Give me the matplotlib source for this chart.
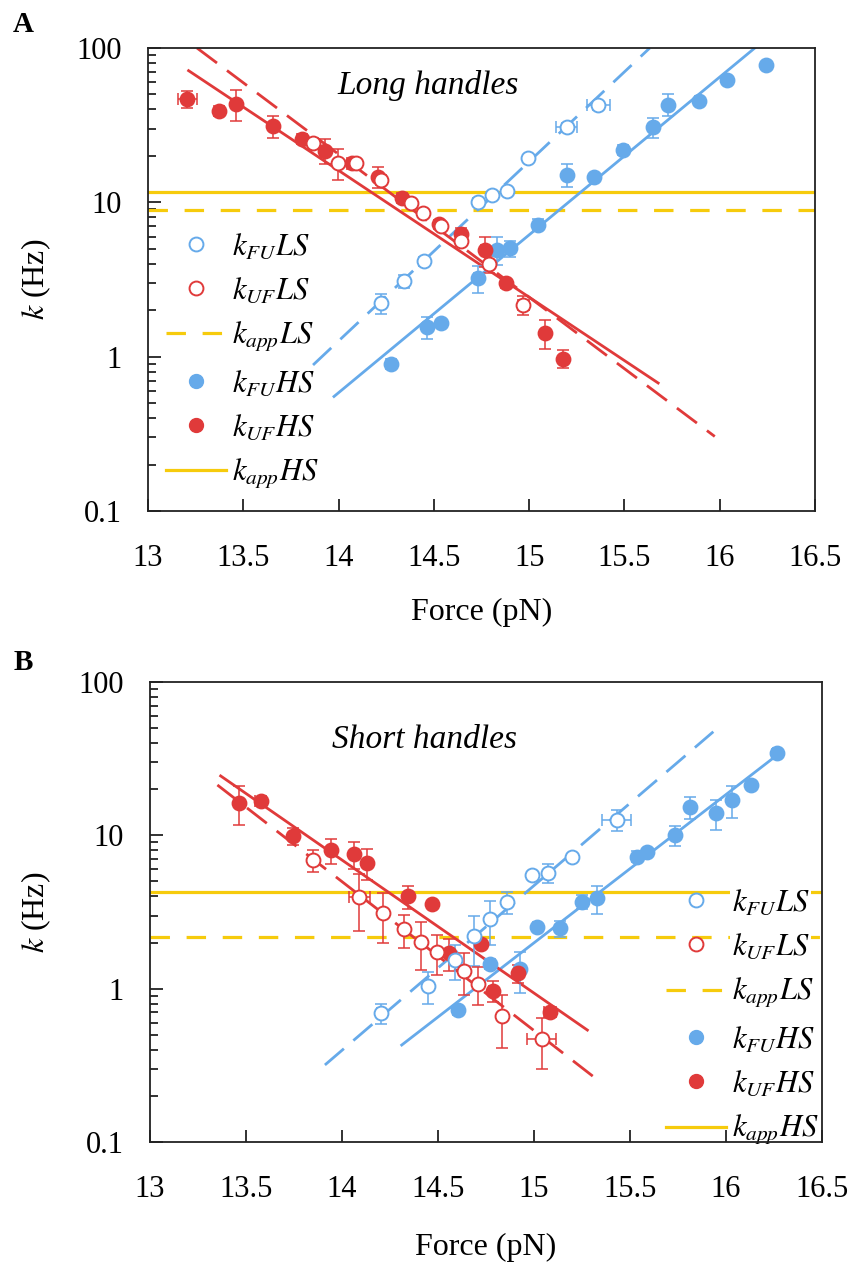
import numpy as np
import matplotlib
matplotlib.use('Agg')
from matplotlib import pyplot as plt
from matplotlib import ticker as tkr
from matplotlib.lines import Line2D

plt.rcParams['font.family'] = ['Liberation Serif', 'DejaVu Serif']
plt.rcParams['mathtext.fontset'] = 'stix'
plt.rcParams['lines.scale_dashes'] = False

BLUE = '#66aaea'
RED = '#e03a3a'
YELLOW = '#f6cb0c'

# ---- Panel A: long handles (force in pN, rate in Hz) ----
a_fu_ls_f = [14.221, 14.343, 14.448, 14.731, 14.803, 14.885, 14.995, 15.196, 15.362]
a_fu_ls_k = [2.22, 3.08, 4.14, 10.1, 11.2, 11.8, 19.4, 30.8, 42.5]
a_fu_ls_kerr = [0.32, 0.3, 0.3, 0.5, 0.5, 0.5, 1.0, 2.0, 3.0]
a_fu_ls_ferr = [0, 0, 0, 0, 0, 0, 0, 0.055, 0.06]

a_uf_ls_f = [13.866, 13.997, 14.093, 14.224, 14.382, 14.443, 14.539, 14.644, 14.790, 14.969]
a_uf_ls_k = [24.2, 18.0, 18.0, 14.0, 9.9, 8.5, 7.0, 5.6, 4.0, 2.17]
a_uf_ls_kerr = [1.5, 4.0, 1.0, 1.0, 0.5, 0.5, 0.4, 0.4, 0.5, 0.32]
a_uf_ls_ferr = [0, 0, 0, 0, 0, 0, 0, 0, 0, 0.03]

a_fu_hs_f = [14.273, 14.466, 14.539, 14.731, 14.832, 14.902, 15.048, 15.196, 15.340,
             15.493, 15.651, 15.730, 15.892, 16.036, 16.242]
a_fu_hs_k = [0.90, 1.55, 1.65, 3.23, 4.93, 5.05, 7.17, 15.1, 14.5, 21.9, 30.6, 43.0, 45.6, 62.4, 78.0]
a_fu_hs_kerr = [0.07, 0.25, 0, 0.65, 1.0, 0.6, 0.6, 2.5, 0.7, 1.5, 4.4, 7.0, 2.0, 3.0, 0]
a_fu_hs_ferr = [0.02, 0, 0, 0.02, 0, 0, 0, 0, 0, 0.02, 0, 0, 0.02, 0.02, 0]

a_uf_hs_f = [13.206, 13.373, 13.463, 13.656, 13.808, 13.930, 14.070, 14.207, 14.334,
             14.527, 14.640, 14.766, 14.878, 15.082, 15.179]
a_uf_hs_k = [47.0, 39.0, 43.4, 31.0, 25.8, 21.6, 18.0, 14.7, 10.7, 7.2, 6.2, 4.9, 3.0, 1.42, 0.97]
a_uf_hs_kerr = [6.0, 3.0, 10.0, 5.0, 2.0, 4.0, 1.5, 2.3, 0.8, 0.5, 0.6, 1.1, 0.2, 0.3, 0.13]
a_uf_hs_ferr = [0.05, 0, 0, 0, 0.02, 0, 0, 0, 0, 0, 0, 0.02, 0.02, 0, 0]

# fitted lines: end points
a_fit_fu_ls = ([13.866, 15.633], [0.883, 100.0])
a_fit_fu_hs = ([13.976, 16.184], [0.552, 100.0])
a_fit_uf_ls = ([13.257, 15.974], [100.0, 0.304])
a_fit_uf_hs = ([13.213, 15.677], [71.3, 0.675])
a_kapp_ls = 8.87
a_kapp_hs = 11.6

# ---- Panel B: short handles ----
b_fu_ls_f = [14.203, 14.446, 14.589, 14.689, 14.771, 14.860, 14.988, 15.074, 15.196, 15.430]
b_fu_ls_k = [0.69, 1.04, 1.54, 2.20, 2.83, 3.66, 5.5, 5.7, 7.26, 12.6]
b_fu_ls_kerr = [0.1, 0.25, 0.4, 0.8, 0.9, 0.6, 0, 0.8, 0, 2.0]
b_fu_ls_ferr = [0.02, 0, 0, 0, 0, 0, 0, 0, 0, 0.075]

b_uf_ls_f = [13.851, 14.090, 14.212, 14.323, 14.410, 14.497, 14.635, 14.710, 14.833, 15.040]
b_uf_ls_k = [6.9, 3.98, 3.10, 2.44, 2.02, 1.73, 1.31, 1.08, 0.66, 0.47]
b_uf_ls_kerr = [1.1, 1.6, 1.1, 0.6, 0.7, 0.5, 0.4, 0.3, 0.25, 0.17]
b_uf_ls_ferr = [0.02, 0.054, 0, 0, 0, 0, 0, 0, 0, 0.075]

b_fu_hs_f = [14.606, 14.769, 14.927, 15.014, 15.135, 15.248, 15.330, 15.535, 15.587,
             15.734, 15.812, 15.948, 16.029, 16.128, 16.264]
b_fu_hs_k = [0.725, 1.45, 1.34, 2.54, 2.47, 3.69, 3.88, 7.26, 7.8, 10.0, 15.2, 13.9, 17.0, 21.3, 34.3]
b_fu_hs_kerr = [0.05, 0.1, 0.4, 0.1, 0.3, 0.4, 0.8, 0.6, 0, 1.5, 2.5, 3.0, 4.0, 0, 2.0]
b_fu_hs_ferr = [0.02, 0.02, 0, 0.02, 0, 0, 0, 0, 0, 0, 0, 0, 0, 0, 0.02]

b_uf_hs_f = [13.463, 13.576, 13.746, 13.943, 14.064, 14.132, 14.345, 14.470, 14.559,
             14.726, 14.788, 14.918, 15.083]
b_uf_hs_k = [16.3, 16.7, 9.9, 8.0, 7.5, 6.6, 4.0, 3.55, 1.71, 1.97, 0.97, 1.26, 0.70]
b_uf_hs_kerr = [4.6, 0.8, 1.2, 1.5, 1.5, 1.5, 0.7, 0, 0.4, 0, 0.15, 0.17, 0.05]
b_uf_hs_ferr = [0, 0.03, 0, 0, 0, 0, 0, 0, 0, 0, 0.02, 0, 0.03]

b_fit_fu_ls = ([13.911, 15.934], [0.318, 47.4])
b_fit_fu_hs = ([14.311, 16.290], [0.429, 35.2])
b_fit_uf_ls = ([13.351, 15.344], [21.3, 0.247])
b_fit_uf_hs = ([13.368, 15.278], [24.4, 0.537])
b_kapp_ls = 2.16
b_kapp_hs = 4.29

x_ticks = [13, 13.5, 14, 14.5, 15, 15.5, 16, 16.5]
y_ticks = [0.1, 1, 10, 100]
legend_labels = ['$k_{FU}LS$', '$k_{UF}LS$', '$k_{app}LS$',
                 '$k_{FU}HS$', '$k_{UF}HS$', '$k_{app}HS$']

FIT_DASH = (0, (18, 9))
APP_DASH = (0, (14, 12))
MS = 10


def draw_points(ax, force, rate, rate_err, force_err, color, filled):
    force = np.asarray(force)
    rate = np.asarray(rate)
    rate_err = np.asarray(rate_err)
    force_err = np.asarray(force_err)
    m = rate_err > 0
    ax.errorbar(force[m], rate[m], yerr=rate_err[m], fmt='none', ecolor=color,
                elinewidth=1.1, capsize=4.5, capthick=1.1, zorder=3)
    m = force_err > 0
    ax.errorbar(force[m], rate[m], xerr=force_err[m], fmt='none', ecolor=color,
                elinewidth=1.1, capsize=4.5, capthick=1.1, zorder=3)
    ax.plot(force, rate, 'o', ms=MS, mfc=color if filled else 'white',
            mec=color, mew=1.4, zorder=4)


def style_axes(ax):
    ax.set_yscale('log')
    ax.set_xlim(13, 16.5)
    ax.set_ylim(0.1, 100)
    ax.set_xticks(x_ticks)
    ax.set_yticks(y_ticks)
    ax.xaxis.set_major_formatter(tkr.FuncFormatter(lambda v, p: '{:g}'.format(v)))
    ax.yaxis.set_major_formatter(tkr.FuncFormatter(lambda v, p: '{:g}'.format(v)))
    ax.yaxis.set_minor_locator(tkr.LogLocator(base=10, subs=np.arange(2, 10)))
    ax.yaxis.set_minor_formatter(tkr.NullFormatter())
    ax.tick_params(which='both', direction='in', top=False, right=False,
                   width=1.3, colors='#222222')
    ax.tick_params(which='major', length=9)
    ax.tick_params(which='minor', length=5.5)
    ax.tick_params(axis='x', which='major', labelsize=22, pad=24, labelcolor='black')
    ax.tick_params(axis='y', which='major', labelsize=22, pad=19, labelcolor='black')
    for s in ax.spines.values():
        s.set_linewidth(1.3)
        s.set_color('#222222')
    ax.set_xlabel('Force (pN)', fontsize=23)
    ax.set_ylabel('$k$ (Hz)', fontsize=23)


def draw_panel(ax, fu_ls, uf_ls, fu_hs, uf_hs, fits, kapp_ls, kapp_hs):
    fit_fu_ls, fit_fu_hs, fit_uf_ls, fit_uf_hs = fits
    ax.axhline(kapp_hs, color=YELLOW, lw=2.3, zorder=2)
    ax.axhline(kapp_ls, color=YELLOW, lw=2.3, ls=APP_DASH, zorder=2)
    ax.plot(*fit_fu_ls, color=BLUE, lw=2.0, ls=FIT_DASH, zorder=2)
    ax.plot(*fit_fu_hs, color=BLUE, lw=2.0, zorder=2)
    ax.plot(*fit_uf_ls, color=RED, lw=2.0, ls=FIT_DASH, zorder=2)
    ax.plot(*fit_uf_hs, color=RED, lw=2.0, zorder=2)
    draw_points(ax, *fu_hs, BLUE, True)
    draw_points(ax, *uf_hs, RED, True)
    draw_points(ax, *fu_ls, BLUE, False)
    draw_points(ax, *uf_ls, RED, False)
    style_axes(ax)


def legend_handles():
    return [
        Line2D([], [], ls='none', marker='o', ms=MS, mfc='white', mec=BLUE, mew=1.4),
        Line2D([], [], ls='none', marker='o', ms=MS, mfc='white', mec=RED, mew=1.4),
        Line2D([], [], color=YELLOW, lw=2.3, ls=APP_DASH),
        Line2D([], [], ls='none', marker='o', ms=MS, mfc=BLUE, mec=BLUE),
        Line2D([], [], ls='none', marker='o', ms=MS, mfc=RED, mec=RED),
        Line2D([], [], color=YELLOW, lw=2.3),
    ]


fig = plt.figure(figsize=(8.53, 12.65), dpi=100)
ax_a = fig.add_axes([0.17351, 0.59605, 0.78195, 0.36601])
ax_b = fig.add_axes([0.17585, 0.09723, 0.78781, 0.36364])

draw_panel(ax_a,
           (a_fu_ls_f, a_fu_ls_k, a_fu_ls_kerr, a_fu_ls_ferr),
           (a_uf_ls_f, a_uf_ls_k, a_uf_ls_kerr, a_uf_ls_ferr),
           (a_fu_hs_f, a_fu_hs_k, a_fu_hs_kerr, a_fu_hs_ferr),
           (a_uf_hs_f, a_uf_hs_k, a_uf_hs_kerr, a_uf_hs_ferr),
           (a_fit_fu_ls, a_fit_fu_hs, a_fit_uf_ls, a_fit_uf_hs),
           a_kapp_ls, a_kapp_hs)
draw_panel(ax_b,
           (b_fu_ls_f, b_fu_ls_k, b_fu_ls_kerr, b_fu_ls_ferr),
           (b_uf_ls_f, b_uf_ls_k, b_uf_ls_kerr, b_uf_ls_ferr),
           (b_fu_hs_f, b_fu_hs_k, b_fu_hs_kerr, b_fu_hs_ferr),
           (b_uf_hs_f, b_uf_hs_k, b_uf_hs_kerr, b_uf_hs_ferr),
           (b_fit_fu_ls, b_fit_fu_hs, b_fit_uf_ls, b_fit_uf_hs),
           b_kapp_ls, b_kapp_hs)

ax_a.text(0.42, 0.918, 'Long handles', transform=ax_a.transAxes, fontsize=24,
          style='italic', ha='center', va='center')
ax_b.text(0.409, 0.874, 'Short handles', transform=ax_b.transAxes, fontsize=24,
          style='italic', ha='center', va='center')

leg_kw = dict(frameon=False, fontsize=22, handlelength=1.95, handletextpad=0.2,
              labelspacing=0.48, borderpad=0, borderaxespad=0, loc='upper left')
ax_a.legend(legend_handles(), legend_labels, bbox_to_anchor=(0.027, 0.603), **leg_kw)
leg_b = ax_b.legend(legend_handles(), legend_labels, bbox_to_anchor=(0.768, 0.552), **leg_kw)
for t in leg_b.get_texts():
    t.set_bbox(dict(facecolor='white', edgecolor='none', pad=1))
leg_b.set_zorder(2.4)  # keep the right spine drawn over the label boxes

ax_a.yaxis.set_label_coords(-0.142, 0.5)
ax_b.yaxis.set_label_coords(-0.144, 0.5)
ax_a.xaxis.set_label_coords(0.5, -0.188)
ax_b.xaxis.set_label_coords(0.5, -0.198)

fig.text(23 / 853, 1 - 24 / 1265, 'A', fontsize=21, fontweight='bold', ha='center', va='center')
fig.text(23 / 853, 1 - 663 / 1265, 'B', fontsize=21, fontweight='bold', ha='center', va='center')

fig.savefig('out.png', dpi=100)
